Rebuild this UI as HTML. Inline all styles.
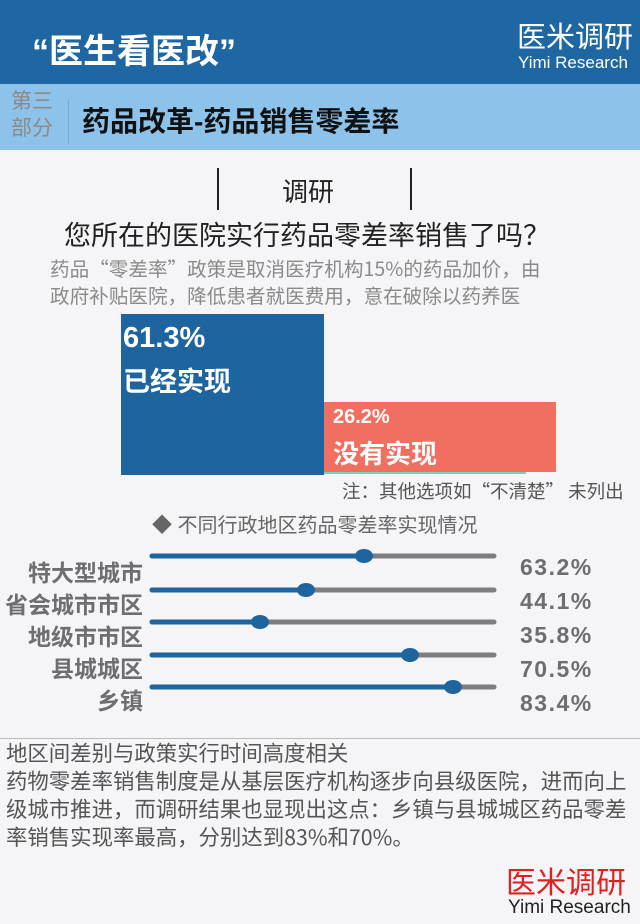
<!DOCTYPE html>
<html><head><meta charset="utf-8"><style>
body{margin:0;width:640px;height:924px;background:#f5f4f7;position:relative;overflow:hidden;font-family:"Liberation Sans","Noto Sans CJK SC",sans-serif}
.a{position:absolute;white-space:nowrap}
.b{font-weight:bold}
.c{font-family:"Noto Sans CJK SC","Liberation Sans",sans-serif}
</style></head><body>
<div class="a" style="left:0;top:0;width:640px;height:84px;background:#1f67a3"></div>
<div class="a b" style="left:32px;top:24px;font-size:34px;color:#fff">“医生看医改”</div>
<div class="a" style="left:517px;top:14px;font-size:29px;color:#fff">医米调研</div>
<div class="a" style="left:518px;top:53px;font-size:17px;color:#fff">Yimi Research</div>
<div class="a" style="left:0;top:84px;width:640px;height:66px;background:#8dc2ea"></div>
<div class="a" style="left:11px;top:88px;font-size:21px;line-height:27px;color:#8a8a8a">第三<br>部分</div>
<div class="a" style="left:68px;top:100px;width:1px;height:44px;background:#7aa8cc"></div>
<div class="a b" style="left:82px;top:100px;font-size:28px;color:#111">药品改革-药品销售零差率</div>
<div class="a" style="left:217px;top:168px;width:2px;height:42px;background:#222"></div>
<div class="a" style="left:410px;top:168px;width:2px;height:42px;background:#222"></div>
<div class="a" style="left:282px;top:172px;font-size:26px;color:#222">调研</div>
<div class="a c" style="left:64px;top:214px;font-size:27px;line-height:40px;color:#222">您所在的医院实行药品零差率销售了吗？</div>
<div class="a c" style="left:50px;top:254px;font-size:19.6px;line-height:27px;color:#8a8a8a">药品“零差率”政策是取消医疗机构15%的药品加价，由<br>政府补贴医院，降低患者就医费用，意在破除以药养医</div>
<div class="a" style="left:121px;top:314px;width:203px;height:161px;background:#1e65a0"></div>
<div class="a b" style="left:123px;top:322px;font-size:29px;color:#fff">61.3%</div>
<div class="a b" style="left:123px;top:360px;font-size:27px;color:#fff">已经实现</div>
<div class="a" style="left:324px;top:402px;width:232px;height:70px;background:#f06f60"></div>
<div class="a" style="left:324px;top:472px;width:202px;height:2px;background:#7ccfb8"></div>
<div class="a b" style="left:333px;top:406px;font-size:20px;color:#fff">26.2%</div>
<div class="a b" style="left:333px;top:434px;font-size:26px;color:#fff">没有实现</div>
<div class="a c" style="left:342px;top:478px;font-size:18.5px;line-height:26px;color:#555">注：其他选项如“不清楚” 未列出</div>
<div class="a" style="left:152px;top:509px;font-size:20px;color:#666">◆ 不同行政地区药品零差率实现情况</div>
<svg class="a" style="left:0;top:540px" width="640" height="170">
<g stroke-width="5" stroke-linecap="round">
<line x1="152" y1="16" x2="494" y2="16" stroke="#7d7d80"/><line x1="152" y1="16" x2="364" y2="16" stroke="#1e65a0"/>
<line x1="152" y1="50" x2="494" y2="50" stroke="#7d7d80"/><line x1="152" y1="50" x2="306" y2="50" stroke="#1e65a0"/>
<line x1="152" y1="82" x2="494" y2="82" stroke="#7d7d80"/><line x1="152" y1="82" x2="260" y2="82" stroke="#1e65a0"/>
<line x1="152" y1="115" x2="494" y2="115" stroke="#7d7d80"/><line x1="152" y1="115" x2="410" y2="115" stroke="#1e65a0"/>
<line x1="152" y1="147" x2="494" y2="147" stroke="#7d7d80"/><line x1="152" y1="147" x2="453" y2="147" stroke="#1e65a0"/>
</g>
<g fill="#1e65a0"><ellipse cx="364" cy="16" rx="9" ry="7"/><ellipse cx="306" cy="50" rx="9" ry="7"/><ellipse cx="260" cy="82" rx="9" ry="7"/><ellipse cx="410" cy="115" rx="9" ry="7"/><ellipse cx="453" cy="147" rx="9" ry="7"/></g>
</svg>
<div class="a b" style="right:497px;top:557px;font-size:23px;line-height:32px;color:#6e6e70;text-align:right">特大型城市<br>省会城市市区<br>地级市市区<br>县城城区<br>乡镇</div>
<div class="a b" style="left:520px;top:550px;font-size:23px;line-height:34px;letter-spacing:1.5px;color:#6e6e70">63.2%<br>44.1%<br>35.8%<br>70.5%<br>83.4%</div>
<div class="a" style="left:0;top:738px;width:640px;height:1px;background:#bbb"></div>
<div class="a c" style="left:6px;top:739px;font-size:21.4px;line-height:28px;color:#555">地区间差别与政策实行时间高度相关<br>药物零差率销售制度是从基层医疗机构逐步向县级医院，进而向上<br>级城市推进，而调研结果也显现出这点：乡镇与县城城区药品零差<br>率销售实现率最高，分别达到83%和70%。</div>
<div class="a" style="left:506px;top:858px;font-size:30px;color:#e02020">医米调研</div>
<div class="a" style="left:508px;top:897px;font-size:19px;color:#222">Yimi Research</div>
</body></html>
